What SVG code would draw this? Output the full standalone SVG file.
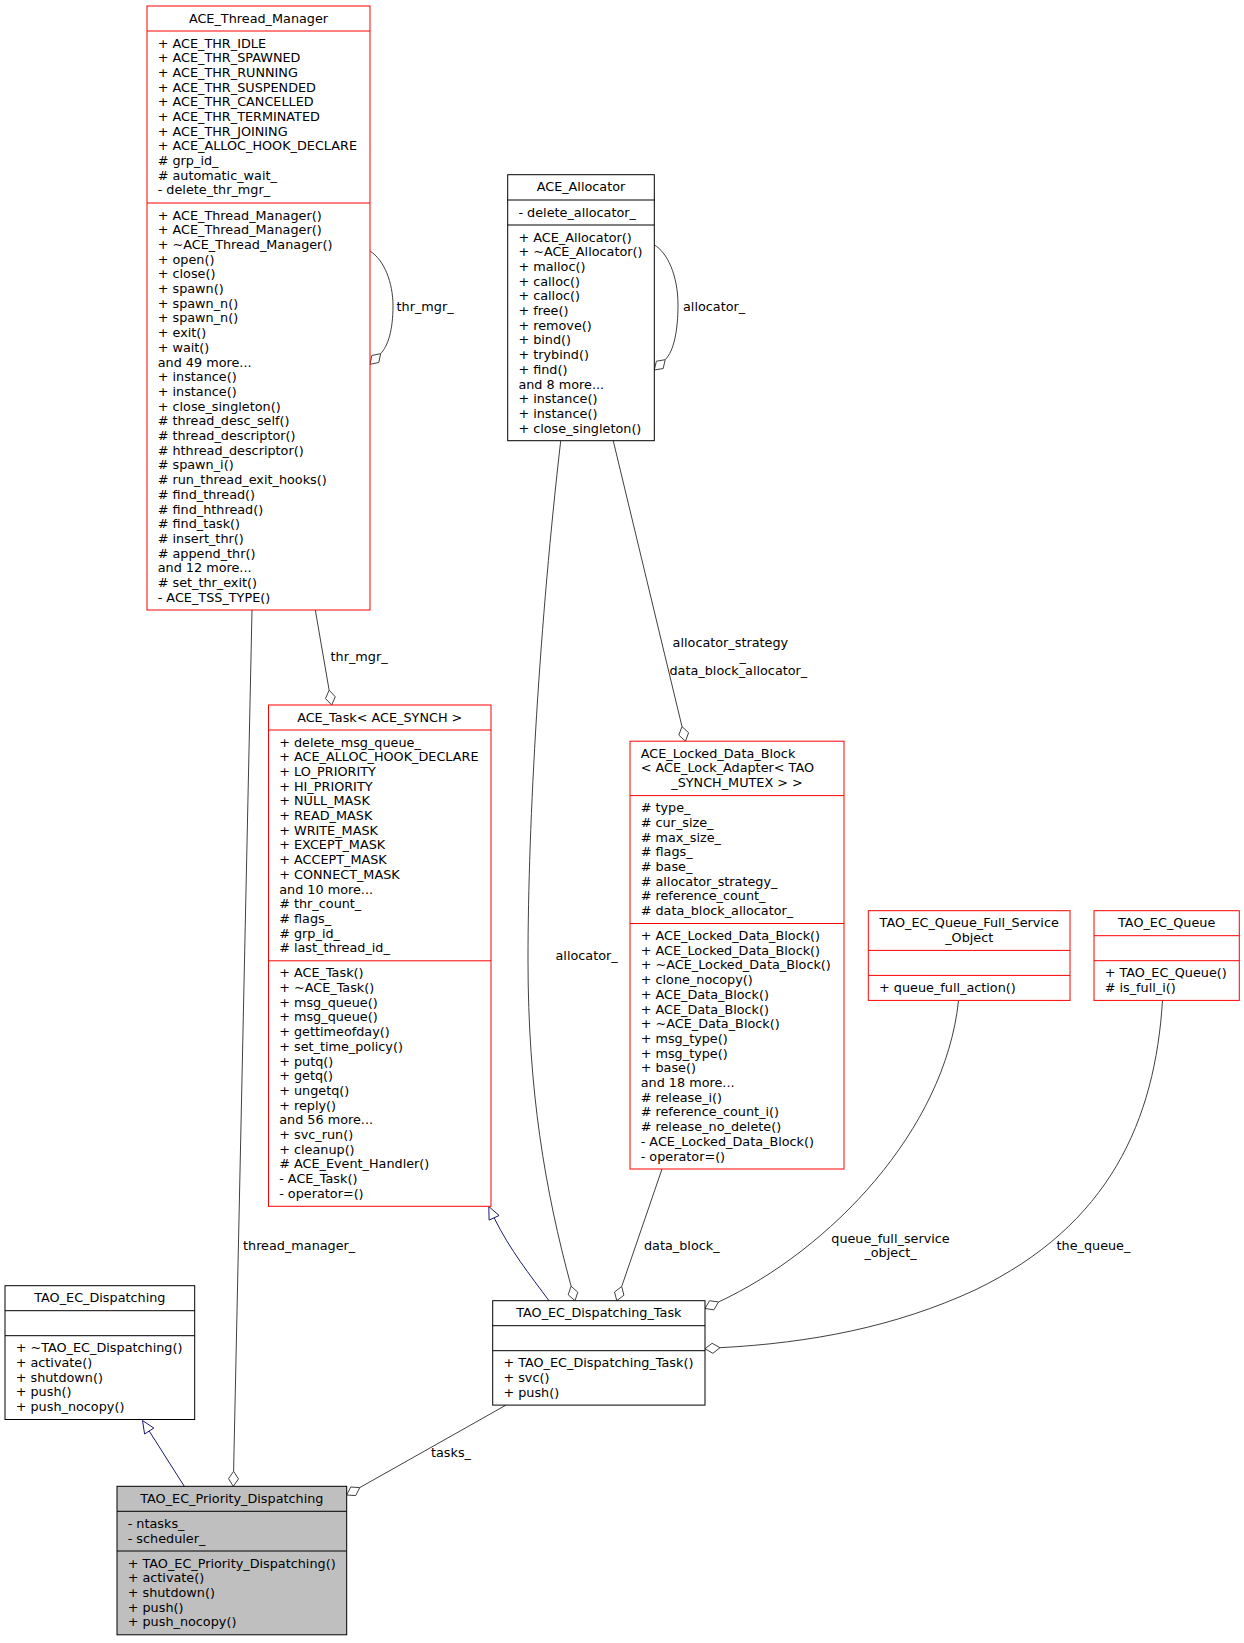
<svg xmlns="http://www.w3.org/2000/svg" width="1244" height="1643" viewBox="0 0 1244 1643">
<style>
text{font-family:"DejaVu Sans","Liberation Sans",sans-serif;font-size:12.8px;fill:#000}
.c{text-anchor:middle}
.rb{fill:#fff;stroke:#ff0000;stroke-width:1}
.bb{fill:#fff;stroke:#000;stroke-width:1}
.gb{fill:#bfbfbf;stroke:#000;stroke-width:1}
.sr{stroke:#ff0000;stroke-width:1}
.sb{stroke:#000;stroke-width:1}
.e{fill:none;stroke:#404040;stroke-width:1}
.d{fill:#fff;stroke:#404040;stroke-width:1}
.i{fill:none;stroke:#191970;stroke-width:1}
.t{fill:#fff;stroke:#191970;stroke-width:1}
</style>
<rect width="1244" height="1643" fill="#fff"/>
<g id="connectors">
  <path class="e" d="M370,251 C384,260 393,282 393,306 C393,330 388,346 380.6,353.7"/>
  <polygon class="d" points="370,364.3 378.8,362.5 380.6,353.7 371.8,355.5"/>
  <text x="396.5" y="311">thr_mgr_</text>
  <path class="e" d="M654.3,245 C667,252 678,275 678,305 C678,330 674,351 665.2,359.7"/>
  <polygon class="d" points="654.3,370 663.2,368.5 665.2,359.7 656.4,361.2"/>
  <text x="683" y="311">allocator_</text>
  <path class="e" d="M315.3,610 L329.15,690.2"/>
  <polygon class="d" points="331.7,705 325.5,698.5 329.15,690.2 335.3,696.8"/>
  <text x="330.5" y="661">thr_mgr_</text>
  <path class="e" d="M252,610 L233.6,1471.3"/>
  <polygon class="d" points="233.3,1486.3 228.5,1478.7 233.6,1471.3 238.5,1478.9"/>
  <text x="243" y="1249.5">thread_manager_</text>
  <path class="e" d="M560.7,441 C540,620 528,820 528,960 C528,1090 545,1190 571.1,1286.2"/>
  <polygon class="d" points="575,1300.7 568.2,1294.8 571.1,1286.2 577.8,1292.2"/>
  <text x="555.5" y="959.5">allocator_</text>
  <path class="e" d="M613.3,441 L682,726.6"/>
  <polygon class="d" points="685.5,741.2 678.8,735.1 682,726.6 688.6,732.7"/>
  <text x="672.6" y="647">allocator_strategy</text>
  <text x="739.5" y="661">_</text>
  <text x="669.5" y="675">data_block_allocator_</text>
  <path class="e" d="M662,1169 L621.7,1286.5"/>
  <polygon class="d" points="616.8,1300.7 614.5,1292 621.7,1286.5 623.9,1295.2"/>
  <text x="644" y="1250">data_block_</text>
  <path class="e" d="M958.5,1000.7 C945,1130 830,1250 718.5,1302"/>
  <polygon class="d" points="705,1308.5 713.9,1309.8 718.5,1302 709.6,1300.7"/>
  <text class="c" x="890.5" y="1242.5">queue_full_service</text>
  <text class="c" x="890.5" y="1256.5">_object_</text>
  <path class="e" d="M1162.5,1000.7 C1155,1120 1110,1225 975,1290 C895,1327 810,1343 720,1347.7"/>
  <polygon class="d" points="705,1348.8 712.9,1353.3 720,1347.7 712.1,1343.3"/>
  <text x="1056.5" y="1250">the_queue_</text>
  <path class="e" d="M506,1405.1 L359.75,1487.6"/>
  <polygon class="d" points="346.7,1495 355.7,1495.6 359.75,1487.6 350.7,1487"/>
  <text x="431" y="1457">tasks_</text>
  <path class="i" d="M184.3,1486.3 L149.2,1431.05"/>
  <polygon class="t" points="142.5,1420.5 153.8,1428.1 144.6,1434"/>
  <path class="i" d="M549,1300.7 C530,1275 510,1250 494.1,1217.8"/>
  <polygon class="t" points="488.8,1206.5 499.1,1215.5 489.1,1220.1"/>
</g>
<g id="ACE_Thread_Manager">
  <rect class="rb" x="147" y="6" width="223" height="604"/>
  <line class="sr" x1="147" y1="31" x2="370" y2="31"/>
  <line class="sr" x1="147" y1="203" x2="370" y2="203"/>
  <text class="c" x="258.5" y="22.5">ACE_Thread_Manager</text>
  <text x="157.7" y="47.5"><tspan x="157.7">+ ACE_THR_IDLE</tspan><tspan x="157.7" dy="14.7">+ ACE_THR_SPAWNED</tspan><tspan x="157.7" dy="14.7">+ ACE_THR_RUNNING</tspan><tspan x="157.7" dy="14.7">+ ACE_THR_SUSPENDED</tspan><tspan x="157.7" dy="14.7">+ ACE_THR_CANCELLED</tspan><tspan x="157.7" dy="14.7">+ ACE_THR_TERMINATED</tspan><tspan x="157.7" dy="14.7">+ ACE_THR_JOINING</tspan><tspan x="157.7" dy="14.7">+ ACE_ALLOC_HOOK_DECLARE</tspan><tspan x="157.7" dy="14.7"># grp_id_</tspan><tspan x="157.7" dy="14.7"># automatic_wait_</tspan><tspan x="157.7" dy="14.7">- delete_thr_mgr_</tspan></text>
  <text x="157.7" y="219.5"><tspan x="157.7">+ ACE_Thread_Manager()</tspan><tspan x="157.7" dy="14.7">+ ACE_Thread_Manager()</tspan><tspan x="157.7" dy="14.7">+ ~ACE_Thread_Manager()</tspan><tspan x="157.7" dy="14.7">+ open()</tspan><tspan x="157.7" dy="14.7">+ close()</tspan><tspan x="157.7" dy="14.7">+ spawn()</tspan><tspan x="157.7" dy="14.7">+ spawn_n()</tspan><tspan x="157.7" dy="14.7">+ spawn_n()</tspan><tspan x="157.7" dy="14.7">+ exit()</tspan><tspan x="157.7" dy="14.7">+ wait()</tspan><tspan x="157.7" dy="14.7">and 49 more...</tspan><tspan x="157.7" dy="14.7">+ instance()</tspan><tspan x="157.7" dy="14.7">+ instance()</tspan><tspan x="157.7" dy="14.7">+ close_singleton()</tspan><tspan x="157.7" dy="14.7"># thread_desc_self()</tspan><tspan x="157.7" dy="14.7"># thread_descriptor()</tspan><tspan x="157.7" dy="14.7"># hthread_descriptor()</tspan><tspan x="157.7" dy="14.7"># spawn_i()</tspan><tspan x="157.7" dy="14.7"># run_thread_exit_hooks()</tspan><tspan x="157.7" dy="14.7"># find_thread()</tspan><tspan x="157.7" dy="14.7"># find_hthread()</tspan><tspan x="157.7" dy="14.7"># find_task()</tspan><tspan x="157.7" dy="14.7"># insert_thr()</tspan><tspan x="157.7" dy="14.7"># append_thr()</tspan><tspan x="157.7" dy="14.7">and 12 more...</tspan><tspan x="157.7" dy="14.7"># set_thr_exit()</tspan><tspan x="157.7" dy="14.7">- ACE_TSS_TYPE()</tspan></text>
</g>
<g id="ACE_Allocator">
  <rect class="bb" x="507.7" y="174.7" width="146.6" height="266"/>
  <line class="sb" x1="507.7" y1="200" x2="654.3" y2="200"/>
  <line class="sb" x1="507.7" y1="225" x2="654.3" y2="225"/>
  <text class="c" x="581" y="191.2">ACE_Allocator</text>
  <text x="518.4" y="216.5">- delete_allocator_</text>
  <text x="518.4" y="241.5"><tspan x="518.4">+ ACE_Allocator()</tspan><tspan x="518.4" dy="14.7">+ ~ACE_Allocator()</tspan><tspan x="518.4" dy="14.7">+ malloc()</tspan><tspan x="518.4" dy="14.7">+ calloc()</tspan><tspan x="518.4" dy="14.7">+ calloc()</tspan><tspan x="518.4" dy="14.7">+ free()</tspan><tspan x="518.4" dy="14.7">+ remove()</tspan><tspan x="518.4" dy="14.7">+ bind()</tspan><tspan x="518.4" dy="14.7">+ trybind()</tspan><tspan x="518.4" dy="14.7">+ find()</tspan><tspan x="518.4" dy="14.7">and 8 more...</tspan><tspan x="518.4" dy="14.7">+ instance()</tspan><tspan x="518.4" dy="14.7">+ instance()</tspan><tspan x="518.4" dy="14.7">+ close_singleton()</tspan></text>
</g>
<g id="ACE_Task">
  <rect class="rb" x="268.5" y="705" width="222.5" height="501.3"/>
  <line class="sr" x1="268.5" y1="730" x2="491" y2="730"/>
  <line class="sr" x1="268.5" y1="960.8" x2="491" y2="960.8"/>
  <text class="c" x="379.75" y="721.5">ACE_Task&lt; ACE_SYNCH &gt;</text>
  <text x="279.2" y="746.5"><tspan x="279.2">+ delete_msg_queue_</tspan><tspan x="279.2" dy="14.7">+ ACE_ALLOC_HOOK_DECLARE</tspan><tspan x="279.2" dy="14.7">+ LO_PRIORITY</tspan><tspan x="279.2" dy="14.7">+ HI_PRIORITY</tspan><tspan x="279.2" dy="14.7">+ NULL_MASK</tspan><tspan x="279.2" dy="14.7">+ READ_MASK</tspan><tspan x="279.2" dy="14.7">+ WRITE_MASK</tspan><tspan x="279.2" dy="14.7">+ EXCEPT_MASK</tspan><tspan x="279.2" dy="14.7">+ ACCEPT_MASK</tspan><tspan x="279.2" dy="14.7">+ CONNECT_MASK</tspan><tspan x="279.2" dy="14.7">and 10 more...</tspan><tspan x="279.2" dy="14.7"># thr_count_</tspan><tspan x="279.2" dy="14.7"># flags_</tspan><tspan x="279.2" dy="14.7"># grp_id_</tspan><tspan x="279.2" dy="14.7"># last_thread_id_</tspan></text>
  <text x="279.2" y="977.3"><tspan x="279.2">+ ACE_Task()</tspan><tspan x="279.2" dy="14.7">+ ~ACE_Task()</tspan><tspan x="279.2" dy="14.7">+ msg_queue()</tspan><tspan x="279.2" dy="14.7">+ msg_queue()</tspan><tspan x="279.2" dy="14.7">+ gettimeofday()</tspan><tspan x="279.2" dy="14.7">+ set_time_policy()</tspan><tspan x="279.2" dy="14.7">+ putq()</tspan><tspan x="279.2" dy="14.7">+ getq()</tspan><tspan x="279.2" dy="14.7">+ ungetq()</tspan><tspan x="279.2" dy="14.7">+ reply()</tspan><tspan x="279.2" dy="14.7">and 56 more...</tspan><tspan x="279.2" dy="14.7">+ svc_run()</tspan><tspan x="279.2" dy="14.7">+ cleanup()</tspan><tspan x="279.2" dy="14.7"># ACE_Event_Handler()</tspan><tspan x="279.2" dy="14.7">- ACE_Task()</tspan><tspan x="279.2" dy="14.7">- operator=()</tspan></text>
</g>
<g id="ACE_Locked_Data_Block">
  <rect class="rb" x="630" y="741.2" width="214" height="427.8"/>
  <line class="sr" x1="630" y1="795.6" x2="844" y2="795.6"/>
  <line class="sr" x1="630" y1="923.5" x2="844" y2="923.5"/>
  <text x="640.7" y="757.7">ACE_Locked_Data_Block</text>
  <text x="640.7" y="772.4">&lt; ACE_Lock_Adapter&lt; TAO</text>
  <text class="c" x="737" y="787.1">_SYNCH_MUTEX &gt; &gt;</text>
  <text x="640.7" y="812.1"><tspan x="640.7"># type_</tspan><tspan x="640.7" dy="14.7"># cur_size_</tspan><tspan x="640.7" dy="14.7"># max_size_</tspan><tspan x="640.7" dy="14.7"># flags_</tspan><tspan x="640.7" dy="14.7"># base_</tspan><tspan x="640.7" dy="14.7"># allocator_strategy_</tspan><tspan x="640.7" dy="14.7"># reference_count_</tspan><tspan x="640.7" dy="14.7"># data_block_allocator_</tspan></text>
  <text x="640.7" y="940"><tspan x="640.7">+ ACE_Locked_Data_Block()</tspan><tspan x="640.7" dy="14.7">+ ACE_Locked_Data_Block()</tspan><tspan x="640.7" dy="14.7">+ ~ACE_Locked_Data_Block()</tspan><tspan x="640.7" dy="14.7">+ clone_nocopy()</tspan><tspan x="640.7" dy="14.7">+ ACE_Data_Block()</tspan><tspan x="640.7" dy="14.7">+ ACE_Data_Block()</tspan><tspan x="640.7" dy="14.7">+ ~ACE_Data_Block()</tspan><tspan x="640.7" dy="14.7">+ msg_type()</tspan><tspan x="640.7" dy="14.7">+ msg_type()</tspan><tspan x="640.7" dy="14.7">+ base()</tspan><tspan x="640.7" dy="14.7">and 18 more...</tspan><tspan x="640.7" dy="14.7"># release_i()</tspan><tspan x="640.7" dy="14.7"># reference_count_i()</tspan><tspan x="640.7" dy="14.7"># release_no_delete()</tspan><tspan x="640.7" dy="14.7">- ACE_Locked_Data_Block()</tspan><tspan x="640.7" dy="14.7">- operator=()</tspan></text>
</g>
<g id="TAO_EC_Queue_Full_Service_Object">
  <rect class="rb" x="868.3" y="910.7" width="201.7" height="89.7"/>
  <line class="sr" x1="868.3" y1="950.4" x2="1070" y2="950.4"/>
  <line class="sr" x1="868.3" y1="975.4" x2="1070" y2="975.4"/>
  <text class="c" x="969.2" y="927.2">TAO_EC_Queue_Full_Service</text>
  <text class="c" x="969.2" y="941.9">_Object</text>
  <text x="879" y="991.9">+ queue_full_action()</text>
</g>
<g id="TAO_EC_Queue">
  <rect class="rb" x="1094" y="910.7" width="145.3" height="89.7"/>
  <line class="sr" x1="1094" y1="935.7" x2="1239.3" y2="935.7"/>
  <line class="sr" x1="1094" y1="960.7" x2="1239.3" y2="960.7"/>
  <text class="c" x="1166.7" y="927.2">TAO_EC_Queue</text>
  <text x="1104.7" y="977.2"><tspan x="1104.7">+ TAO_EC_Queue()</tspan><tspan x="1104.7" dy="14.7"># is_full_i()</tspan></text>
</g>
<g id="TAO_EC_Dispatching">
  <rect class="bb" x="5" y="1285.7" width="189.7" height="133.8"/>
  <line class="sb" x1="5" y1="1310.7" x2="194.7" y2="1310.7"/>
  <line class="sb" x1="5" y1="1335.7" x2="194.7" y2="1335.7"/>
  <text class="c" x="99.85" y="1302.2">TAO_EC_Dispatching</text>
  <text x="15.7" y="1352.2"><tspan x="15.7">+ ~TAO_EC_Dispatching()</tspan><tspan x="15.7" dy="14.7">+ activate()</tspan><tspan x="15.7" dy="14.7">+ shutdown()</tspan><tspan x="15.7" dy="14.7">+ push()</tspan><tspan x="15.7" dy="14.7">+ push_nocopy()</tspan></text>
</g>
<g id="TAO_EC_Dispatching_Task">
  <rect class="bb" x="492.7" y="1300.7" width="212.3" height="104.4"/>
  <line class="sb" x1="492.7" y1="1325.7" x2="705" y2="1325.7"/>
  <line class="sb" x1="492.7" y1="1350.7" x2="705" y2="1350.7"/>
  <text class="c" x="598.85" y="1317.2">TAO_EC_Dispatching_Task</text>
  <text x="503.4" y="1367.2"><tspan x="503.4">+ TAO_EC_Dispatching_Task()</tspan><tspan x="503.4" dy="14.7">+ svc()</tspan><tspan x="503.4" dy="14.7">+ push()</tspan></text>
</g>
<g id="TAO_EC_Priority_Dispatching">
  <rect class="gb" x="117" y="1486.3" width="229.7" height="148.5"/>
  <line class="sb" x1="117" y1="1511.3" x2="346.7" y2="1511.3"/>
  <line class="sb" x1="117" y1="1551" x2="346.7" y2="1551"/>
  <text class="c" x="231.85" y="1502.8">TAO_EC_Priority_Dispatching</text>
  <text x="127.7" y="1527.8"><tspan x="127.7">- ntasks_</tspan><tspan x="127.7" dy="14.7">- scheduler_</tspan></text>
  <text x="127.7" y="1567.5"><tspan x="127.7">+ TAO_EC_Priority_Dispatching()</tspan><tspan x="127.7" dy="14.7">+ activate()</tspan><tspan x="127.7" dy="14.7">+ shutdown()</tspan><tspan x="127.7" dy="14.7">+ push()</tspan><tspan x="127.7" dy="14.7">+ push_nocopy()</tspan></text>
</g>
</svg>
